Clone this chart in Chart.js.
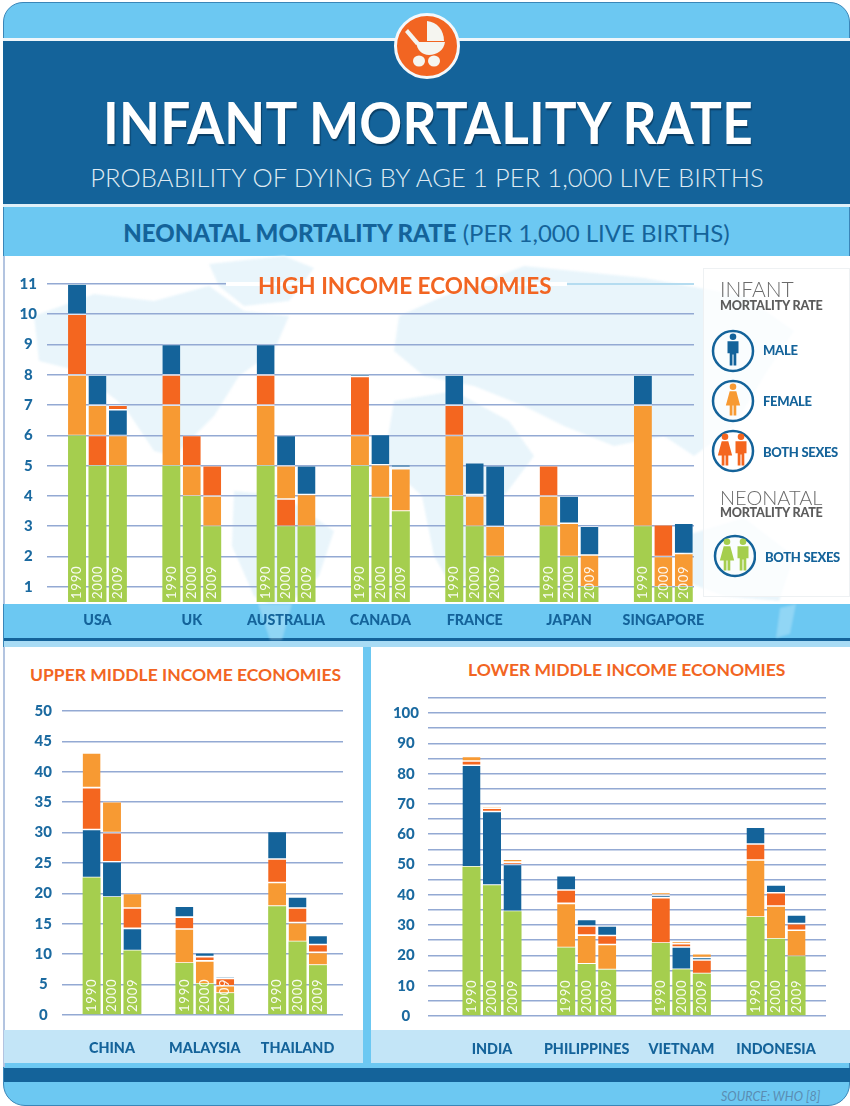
<!DOCTYPE html>
<html>
<head>
<meta charset="utf-8">
<script src="https://cdn.jsdelivr.net/npm/chart.js@4/dist/chart.umd.min.js"></script>
<style>
  html, body { margin: 0; padding: 0; background: #fff; }
  #page { position: relative; width: 850px; height: 1106px; overflow: hidden; font-family: Lato, sans-serif; background: #fff; }
  #page div, #page svg, #page canvas { position: absolute; }
  .t { white-space: nowrap; }
  .orange-title { color: #f26522; font-weight: 700; }
  .leg-small { color: #5c5c5c; font-weight: 900; font-size: 12.6px; letter-spacing: -0.2px; }
  .leg-big { color: #6a6a6a; font-weight: 300; }
  .leg-item { color: #14639a; font-weight: 900; font-size: 13px; letter-spacing: -0.3px; }
</style>
</head>
<body>
<div id="page">
  <!-- frame -->
  <div style="left:3px;top:2px;width:847px;height:1104px;box-sizing:border-box;background:#6cc8f2;border:1px solid #3a86b8;border-radius:20px 20px 22px 22px;"></div>
  <div style="left:3px;top:38px;width:847px;height:3px;background:#eef6fb;"></div>
  <div style="left:3px;top:41px;width:847px;height:163px;background:#14639a;"></div>
  <div style="left:3px;top:204px;width:847px;height:3px;background:#dff0f9;"></div>
  <div style="left:4px;top:256px;width:846px;height:348px;background:#fff;"></div>
  <div style="left:3px;top:256px;width:1.5px;height:348px;background:#b3c4e0;"></div>
  <div style="left:4px;top:638px;width:846px;height:3px;background:#14639a;"></div>
  <div style="left:4px;top:641px;width:846px;height:6px;background:#a8dcf5;"></div>
  <div style="left:4px;top:647px;width:359px;height:383px;background:#fff;"></div>
  <div style="left:3px;top:647px;width:1.5px;height:420px;background:#b3c4e0;"></div>
  <div style="left:371px;top:647px;width:479px;height:383px;background:#fff;"></div>
  <div style="left:4px;top:1030px;width:359px;height:33px;background:#c3e5f7;"></div>
  <div style="left:371px;top:1030px;width:479px;height:33px;background:#c3e5f7;"></div>
  <div style="left:4px;top:1068px;width:846px;height:14px;background:#14639a;"></div>

  <!-- world map -->
  <svg style="left:4px;top:256px;filter:blur(1.2px);" width="846" height="348" viewBox="0 0 846 348">
    <g fill="#e9f5fb">
      <path d="M30 60 L90 38 L150 45 L205 30 L240 55 L285 60 L270 95 L235 120 L210 160 L170 200 L150 195 L120 150 L75 115 L35 105 Z"/>
      <path d="M205 8 L280 0 L310 12 L285 45 L240 50 L215 30 Z"/>
      <path d="M230 235 L280 240 L330 275 L315 320 L285 348 L265 348 L250 340 L228 290 Z"/>
      <path d="M395 60 L440 40 L520 10 L640 22 L740 40 L790 75 L760 120 L730 170 L690 200 L660 180 L610 190 L560 170 L520 150 L470 130 L420 120 L390 95 Z"/>
      <path d="M390 145 L450 135 L505 165 L530 200 L500 240 L485 300 L450 335 L430 300 L418 240 L380 205 Z"/>
      <path d="M680 280 L740 262 L790 300 L775 345 L720 340 L680 325 Z"/>
    </g>
  </svg>
  <div style="left:4px;top:604px;width:846px;height:34px;background:#6cc8f2;"></div>
  <svg style="left:0;top:604px;filter:blur(1px);" width="850" height="40" viewBox="0 0 850 40">
    <path d="M258 0 L292 0 L282 36 L270 36 Z" fill="#fff" fill-opacity="0.25"/>
    <path d="M780 4 L796 0 L790 30 L776 34 Z" fill="#fff" fill-opacity="0.25"/>
  </svg>

  <!-- header -->
  <div style="left:394px;top:13px;width:66px;height:66px;box-sizing:border-box;background:#f26522;border:3px solid #f3f8fb;border-radius:50%;"></div>
  <svg style="left:405px;top:21px;" width="41" height="46" viewBox="0 0 41 46">
    <g fill="#f5f5f0">
      <path d="M22 0 C32 1 39 9 39 20 L22 20 Z"/>
      <path d="M11 21 L40 21 C39 29 32 34 24 34 C17 34 12 29 11 21 Z"/>
      <path d="M0 11 L3 8 L15 22 L11 24 Z"/>
      <ellipse cx="14" cy="40" rx="6" ry="5.5"/>
      <ellipse cx="29" cy="40" rx="6" ry="5.5"/>
    </g>
  </svg>
  <div class="t" style="left:0;width:856px;top:88px;text-align:center;color:#fff;font-weight:700;font-size:56.5px;line-height:68px;letter-spacing:0.2px;transform:scaleX(0.94);text-shadow:1px 2px 1px #0b3f66;">INFANT MORTALITY RATE</div>
  <div class="t" style="left:0;width:854px;top:161px;text-align:center;color:#dfeaf2;font-weight:300;font-size:25.5px;line-height:32px;letter-spacing:0.1px;">PROBABILITY OF DYING BY AGE 1 PER 1,000 LIVE BIRTHS</div>
  <div class="t" style="left:0;width:853px;top:217px;text-align:center;color:#14639a;font-size:24px;line-height:32px;"><span style="font-weight:900;">NEONATAL MORTALITY RATE</span> <span style="font-weight:400;">(PER 1,000 LIVE BIRTHS)</span></div>

  <canvas id="highChart" style="left:0;top:270px;"></canvas>
  <canvas id="upperChart" style="left:0;top:695px;"></canvas>
  <canvas id="lowerChart" style="left:371px;top:690px;"></canvas>

  <!-- panel titles -->
  <div style="left:226px;top:282px;width:341px;height:4px;background:#fff;"></div>
  <div style="left:567px;top:283px;width:127px;height:2px;background:#b5dcf0;"></div>
  <div class="t orange-title" style="left:258px;top:272px;font-size:22.5px;line-height:28px;">HIGH INCOME ECONOMIES</div>
  <div class="t orange-title" style="left:30px;top:663px;font-size:17.5px;line-height:24px;">UPPER MIDDLE INCOME ECONOMIES</div>
  <div class="t orange-title" style="left:468px;top:658px;font-size:17.5px;line-height:24px;">LOWER MIDDLE INCOME ECONOMIES</div>

  <!-- legend -->
  <div style="left:703px;top:268px;width:147px;height:329px;background:rgba(255,255,255,0.75);border:1px solid #eef1f3;box-sizing:border-box;"></div>
  <div class="t leg-big" style="left:720px;top:276px;font-size:21px;line-height:26px;">INFANT</div>
  <div class="t leg-small" style="left:720px;top:298px;line-height:16px;">MORTALITY RATE</div>
  <div class="t leg-big" style="left:720px;top:484px;font-size:20px;line-height:26px;">NEONATAL</div>
  <div class="t leg-small" style="left:720px;top:505px;line-height:16px;">MORTALITY RATE</div>
  <svg style="left:710px;top:326px;" width="46" height="256" viewBox="0 0 46 256">
    <defs>
      <path id="man" d="M-3 -12 a3 3 0 1 0 6 0 a3 3 0 1 0 -6 0 M-5 -8 L5 -8 L5 3 L3 3 L3 14 L0.5 14 L0.5 4 L-0.5 4 L-0.5 14 L-3 14 L-3 3 L-5 3 Z"/>
      <path id="woman" d="M-3 -12 a3 3 0 1 0 6 0 a3 3 0 1 0 -6 0 M-3 -8 L3 -8 L6.5 5 L3 5 L3 14 L0.5 14 L0.5 5 L-0.5 5 L-0.5 14 L-3 14 L-3 5 L-6.5 5 Z"/>
    </defs>
    <g fill="none" stroke="#14639a" stroke-width="2.5">
      <circle cx="23" cy="25" r="20"/>
      <circle cx="23" cy="75" r="20"/>
      <circle cx="23" cy="125" r="20"/>
      <circle cx="25" cy="230" r="20"/>
    </g>
    <use href="#man" transform="translate(23 24) scale(1.1)" fill="#14639a"/>
    <use href="#woman" transform="translate(23 74) scale(1.1)" fill="#f79a33"/>
    <use href="#woman" transform="translate(15 124) scale(1.1)" fill="#f4661f"/>
    <use href="#man" transform="translate(31 124) scale(1.1)" fill="#f4661f"/>
    <use href="#woman" transform="translate(17 229) scale(1.1)" fill="#a5ce4e"/>
    <use href="#man" transform="translate(33 229) scale(1.1)" fill="#a5ce4e"/>
  </svg>
  <div class="t leg-item" style="left:763px;top:342px;line-height:16px;">MALE</div>
  <div class="t leg-item" style="left:763px;top:393px;line-height:16px;">FEMALE</div>
  <div class="t leg-item" style="left:763px;top:444px;line-height:16px;">BOTH SEXES</div>
  <div class="t leg-item" style="left:765px;top:549px;line-height:16px;">BOTH SEXES</div>

  <div class="t" style="left:721px;top:1090px;color:#5a8db3;font-style:italic;font-size:12.5px;line-height:14px;">SOURCE: WHO [8]</div>
</div>

<script>
const years = ["1990", "2000", "2009"];

// values are segment heights, rows are countries, columns are the three years
const highCountries = ["USA", "UK", "AUSTRALIA", "CANADA", "FRANCE", "JAPAN", "SINGAPORE"];
const highNeonatal = [[6, 5, 5], [5, 4, 3], [5, 3, 3], [5, 3.95, 3.5], [4, 3, 2], [3, 2, 1], [3, 1, 1]];
const highFemale = [[2, 1, 1], [2, 1, 1], [2, 1.1, 1.05], [1, 1.08, 1.4], [2, 1, 1], [1, 1.1, 1.05], [4, 1, 1.1]];
const highBoth = [[2, 1, 0.15], [1, 1, 1], [1, 0.9, 0], [1.95, 0, 0.05], [1, 0.05, 0], [1, 0, 0], [0, 1.05, 0]];
const highMale = [[1, 1, 0.85], [1, 0, 0], [1, 1, 0.95], [0.08, 1, 0.08], [1, 1.05, 2], [0, 0.9, 0.95], [1, 0, 1]];
// order the segments sit above the green one: f female, b both, m male
const highOrder = [["fbm", "bfm", "fmb"], ["fbm", "fbm", "fbm"], ["fbm", "bfm", "fbm"], ["fbm", "fbm", "fbm"], ["fbm", "fbm", "fbm"], ["fbm", "fbm", "fbm"], ["fbm", "fbm", "fbm"]];
const highTicks = [1, 2, 3, 4, 5, 6, 7, 8, 9, 10, 11];

const upperCountries = ["CHINA", "MALAYSIA", "THAILAND"];
const upperNeonatal = [[22.6, 19.4, 10.6], [8.55, 5.15, 3.6], [17.9, 12.1, 8.2]];
const upperFemale = [[5.7, 5.1, 2.4], [5.6, 3.75, 1.2], [3.9, 3.1, 2.1]];
const upperBoth = [[6.9, 4.8, 3.35], [1.95, 0.7, 1.2], [3.85, 2.4, 1.3]];
const upperMale = [[7.9, 5.8, 3.65], [1.8, 0.65, 0.3], [4.55, 1.8, 1.5]];
const upperOrder = [["mbf", "mbf", "mbf"], ["fbm", "fbm", "fbm"], ["fbm", "fbm", "fbm"]];
const upperTicks = [0, 5, 10, 15, 20, 25, 30, 35, 40, 45, 50];

const lowerCountries = ["INDIA", "PHILIPPINES", "VIETNAM", "INDONESIA"];
const lowerNeonatal = [[49.3, 43.2, 34.6], [22.6, 17.2, 15.3], [24.1, 15.4, 14], [32.7, 25.5, 19.7]];
const lowerFemale = [[1.5, 0.6, 1], [14.6, 9.5, 8.3], [0.9, 0.8, 1.3], [18.8, 10.8, 8.6]];
const lowerBoth = [[1.4, 1.1, 0.8], [4.4, 3, 3], [15, 1.1, 4.5], [5.3, 4.4, 2.2]];
const lowerMale = [[33.5, 24.3, 15.4], [4.7, 2.2, 3.1], [0.8, 7.4, 0.8], [5.5, 2.6, 2.9]];
const lowerOrder = [["mbf", "mbf", "mbf"], ["fbm", "fbm", "fbm"], ["bmf", "mbf", "bmf"], ["fbm", "fbm", "fbm"]];
const lowerTicks = [0, 10, 20, 30, 40, 50, 60, 70, 80, 90, 100];

const GREEN = "#a5ce4e";
const ORANGE = "#f79a33";
const RED = "#f4661f";
const BLUE = "#14639a";
const GRID = "#93a9d3";
const segColors = { f: ORANGE, b: RED, m: BLUE };

// writes the year up the inside of each green bar
const yearLabels = {
  id: "yearLabels",
  afterDatasetsDraw(chart) {
    const ctx = chart.ctx;
    const bottom = chart.chartArea.bottom;
    chart.data.datasets.forEach((ds, i) => {
      if (ds.layer !== 0) return;
      chart.getDatasetMeta(i).data.forEach(bar => {
        ctx.save();
        ctx.translate(bar.x, bottom - 3);
        ctx.rotate(-Math.PI / 2);
        ctx.font = "400 13px Lato";
        ctx.letterSpacing = "0.8px";
        ctx.fillStyle = "rgba(255,255,255,0.92)";
        ctx.textAlign = "left";
        ctx.textBaseline = "middle";
        ctx.fillText(ds.stack, 0, 0);
        ctx.restore();
      });
    });
  }
};

function drawPanel(id, countries, neonatal, female, both, male, order, o) {
  const canvas = document.getElementById(id);
  canvas.width = o.width;
  canvas.height = o.height;
  canvas.style.width = o.width + "px";
  canvas.style.height = o.height + "px";

  const seg = { f: female, b: both, m: male };
  const datasets = [];
  years.forEach((year, y) => {
    for (let layer = 0; layer < 4; layer++) {
      const keys = countries.map((c, i) => layer === 0 ? "n" : order[i][y][layer - 1]);
      datasets.push({
        label: year,
        stack: year,
        layer: layer,
        data: countries.map((c, i) => keys[i] === "n" ? neonatal[i][y] : seg[keys[i]][i][y]),
        backgroundColor: keys.map(k => k === "n" ? GREEN : segColors[k]),
        borderColor: "rgba(255,255,255,0.75)",
        borderWidth: { top: layer === 0 ? 0 : 0.8, bottom: layer === 0 ? 0 : 0.8, left: 0, right: 0 },
        borderSkipped: false,
        categoryPercentage: o.groupShare,
        barPercentage: 0.88
      });
    }
  });

  return new Chart(canvas, {
    type: "bar",
    data: { labels: countries.map((c, i) => i), datasets: datasets },
    plugins: [yearLabels],
    options: {
      responsive: false,
      animation: false,
      layout: { padding: { top: o.top, right: o.right, left: 0, bottom: 0 } },
      plugins: { legend: { display: false }, tooltip: { enabled: false } },
      scales: {
        x: {
          type: "linear",
          offset: false,
          min: o.xMin,
          max: o.xMax,
          grid: { display: false, offset: false, drawTicks: false },
          border: { display: false },
          afterFit: s => { s.height = o.axisHeight; s.paddingLeft = 0; s.paddingRight = 0; },
          ticks: {
            stepSize: 1,
            includeBounds: false,
            maxRotation: 0,
            autoSkip: false,
            padding: o.labelPad,
            color: BLUE,
            font: { family: "Lato", weight: "900", size: 14.3 },
            callback: v => countries[v]
          }
        },
        y: {
          stacked: true,
          min: o.yMin,
          max: o.yMax,
          grid: { color: GRID, lineWidth: 1.6, drawTicks: false },
          border: { display: false },
          afterFit: s => { s.width = o.axisWidth; s.paddingTop = 0; s.paddingBottom = 0; },
          ticks: {
            stepSize: o.step,
            includeBounds: false,
            autoSkip: false,
            padding: o.tickPad,
            crossAlign: "center",
            color: "#1b6aa0",
            font: { family: "Lato", weight: "900", size: 15 },
            callback: v => o.ticks.includes(v) ? String(v) : ""
          }
        }
      }
    }
  });
}

drawPanel("highChart", highCountries, highNeonatal, highFemale, highBoth, highMale, highOrder, {
  width: 730, height: 370, top: 14, right: 36, axisWidth: 47, axisHeight: 38, labelPad: 10, tickPad: 10,
  xMin: -0.535, xMax: 6.325, yMin: 0.5, yMax: 11, step: 1, ticks: highTicks, groupShare: 0.65
});
drawPanel("upperChart", upperCountries, upperNeonatal, upperFemale, upperBoth, upperMale, upperOrder, {
  width: 349, height: 369, top: 16, right: 6, axisWidth: 62, axisHeight: 49, labelPad: 25, tickPad: 10,
  xMin: -0.539, xMax: 2.49, yMin: 0, yMax: 50, step: 5, ticks: upperTicks, groupShare: 0.66
});
drawPanel("lowerChart", lowerCountries, lowerNeonatal, lowerFemale, lowerBoth, lowerMale, lowerOrder, {
  width: 462, height: 374, top: 8, right: 7, axisWidth: 57, axisHeight: 48, labelPad: 25, tickPad: 9,
  xMin: -0.676, xMax: 3.528, yMin: 0, yMax: 105, step: 5, ticks: lowerTicks, groupShare: 0.65
});
</script>
</body>
</html>
